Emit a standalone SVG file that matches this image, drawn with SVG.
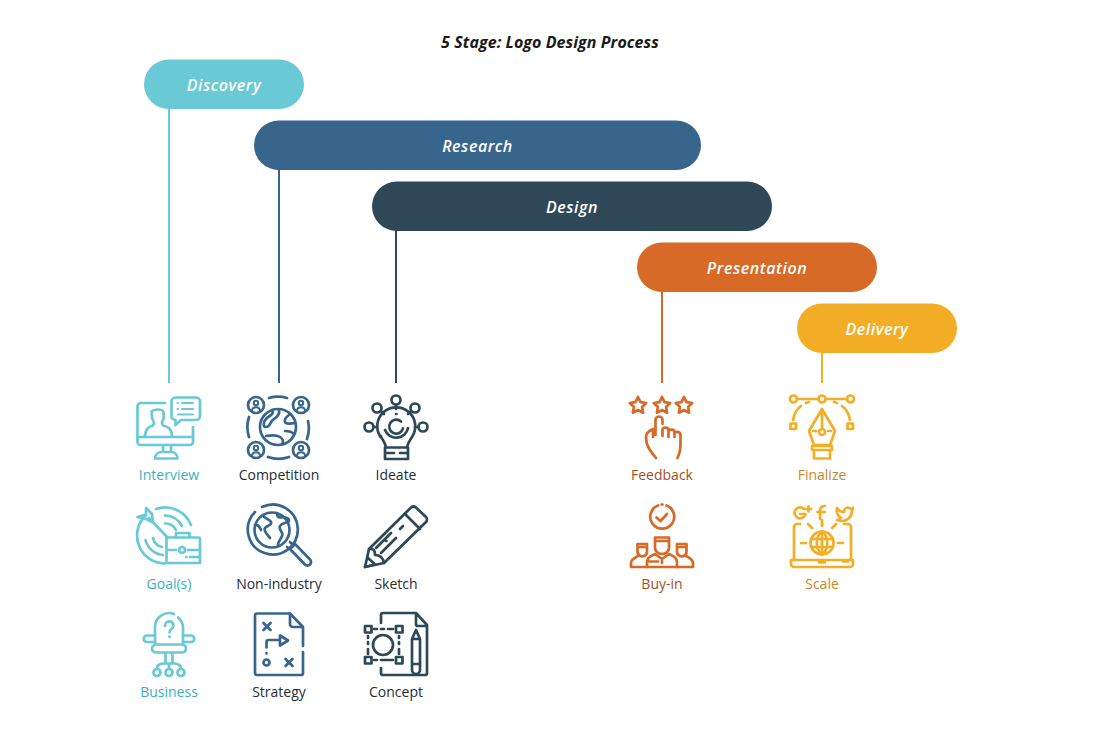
<svg xmlns="http://www.w3.org/2000/svg" width="1100" height="733" viewBox="0 0 1100 733">
<style>
text{font-family:"Open Sans","Liberation Sans",sans-serif}
.title{font-size:16px;font-weight:700;font-style:italic;fill:#1a1a1a;text-anchor:middle;letter-spacing:.07px}
.pill{font-size:16px;font-weight:600;font-style:italic;fill:#fff;text-anchor:middle;letter-spacing:.55px}
.lab{font-size:14px;text-anchor:middle}
.ic{fill:none;stroke-width:2.7;stroke-linecap:round;stroke-linejoin:round}
.thin{stroke-width:2}
.conn line{stroke-width:2}
.teal{stroke:#69c9d4}.blue{stroke:#38658c}.dark{stroke:#2f4858}.orange{stroke:#d66a26}.gold{stroke:#f4ae26}
.lt{fill:#3db0bc}.lb{fill:#1f2d38}.lo{fill:#a2501f}.lg{fill:#c28a2b}
</style>
<text class="title" x="550" y="48">5 Stage: Logo Design Process</text>

<g id="connectors" class="conn">
<line class="teal" x1="169" y1="108" x2="169" y2="383"/>
<line class="blue" x1="279" y1="169" x2="279" y2="383"/>
<line class="dark" x1="396" y1="230" x2="396" y2="383"/>
<line class="orange" x1="662" y1="291" x2="662" y2="383"/>
<line class="gold" x1="822" y1="352" x2="822" y2="383"/>
</g>

<g id="stage-discovery"><rect x="144" y="59.500" width="160" height="49.500" rx="24.750" fill="#69c9d4"/><text class="pill" x="224" y="91">Discovery</text></g>
<g id="stage-research"><rect x="254" y="120.500" width="447" height="49.500" rx="24.750" fill="#38658c"/><text class="pill" x="477.500" y="152">Research</text></g>
<g id="stage-design"><rect x="372" y="181.500" width="400" height="49.500" rx="24.750" fill="#2f4858"/><text class="pill" x="572" y="213">Design</text></g>
<g id="stage-presentation"><rect x="637" y="242.500" width="240" height="49.500" rx="24.750" fill="#d66a26"/><text class="pill" x="757" y="274">Presentation</text></g>
<g id="stage-delivery"><rect x="797" y="303.500" width="160" height="49.500" rx="24.750" fill="#f4ae26"/><text class="pill" x="877" y="335">Delivery</text></g>

<g id="item-interview">
<g class="ic teal">
<path d="M165 403H141a3.500 3.500 0 0 0-3.500 3.500V442a3 3 0 0 0 3 3H190a3 3 0 0 0 3-3V427"/>
<path d="M137.500 437H193M163 445.500V452M171 445.500V452M155 458.500h22.500c0-4-3-6.500-7-6.500h-8.500c-4 0-7 2.500-7 6.500z"/>
<path d="M145 436c0-7 5-10 7-10 2-1 2-2 2-4-2-2-3-8-2-11 3-2 9-2 11 0 1 3 1 8-1 11 0 2 0 3 2 4 3 0 8 3 8 10"/>
<path d="M176 397.500H196a4 4 0 0 1 4 4V416a4 4 0 0 1-4 4H181l-5.500 5V420a4 4 0 0 1-4-4V401.500a4 4 0 0 1 4-4z"/>
<path class="thin" d="M182 403h11M182 409h11M178 414.500h15M177.500 403h.5M177.500 409h.5"/>
</g>
<text class="lab lt" x="169" y="480">Interview</text>
</g>

<g id="item-goals">
<g class="ic teal">
<path d="M191 525A28 28 0 0 0 156 509M146 515A28 28 0 0 0 165 563.500"/>
<path d="M182 526A20 20 0 0 0 165 515.500M145.500 540A20 20 0 0 0 163 555"/>
<path d="M176 530A12 12 0 0 0 165 523.500M153 538A12 12 0 0 0 162 547"/>
<path d="M167 537L149 518M137.500 517L146 514.500V508L152 514L153 522.500L146.500 519Z"/>
<path d="M167 537.500H198a2 2 0 0 1 2 2V563H166.500V539.500a2 2 0 0 1 .5-2zM176 537v-4h13.500v4M166.500 550H176M188 550h12M182 547a3 3 0 1 0 .1 0M186 557h.5M190 557h10"/>
</g>
<text class="lab lt" x="169" y="589">Goal(s)</text>
</g>

<g id="item-business">
<g class="ic teal">
<path d="M155 645V627a14 14 0 0 1 19-13M178 617.500a14 14 0 0 1 5 9.500V645"/>
<path d="M155 635.500H147a3 3 0 0 0 0 6.500H155M183 635.500h8a3 3 0 0 1 0 6.500h-8"/>
<path d="M156 644.500H182a4 4 0 0 1 0 8H156a4 4 0 0 1 0-8z"/>
<path d="M165.500 653V663M172.500 653V663M157 668.500c0-3 3-5 6-5H175c3 0 6 2 6 5M169 664v4"/>
<circle cx="157" cy="672.500" r="3.500"/><circle cx="169" cy="672.500" r="3.500"/><circle cx="181" cy="672.500" r="3.500"/>
<path d="M165 626c0-6 8.500-6 8.500-.5 0 3.500-4 3.500-4 7M169.500 636.500v.5"/>
</g>
<text class="lab lt" x="169" y="697">Business</text>
</g>

<g id="item-competition">
<g class="ic blue">
<circle cx="256" cy="405" r="8"/><circle cx="301" cy="405" r="8"/><circle cx="256" cy="450" r="8"/><circle cx="301" cy="450" r="8"/>
<g class="thin"><path d="M252 411c0-5 8-5 8 0M297 411c0-5 8-5 8 0M252 456c0-5 8-5 8 0M297 456c0-5 8-5 8 0"/>
<circle cx="256" cy="403" r="2.200"/><circle cx="301" cy="403" r="2.200"/><circle cx="256" cy="448" r="2.200"/><circle cx="301" cy="448" r="2.200"/></g>
<circle cx="278" cy="427" r="18"/>
<path d="M272 410c3 4-3 6-6 9-3 3-3 8 0 8 5 0 3-5 8-8 3-2 6-5 5-9M295 423c-3 0-9 2-10-1-1-3 1-5 4-7M266 436c6-1 11-1 14 1 3 2 4 5 2 7M285 431c3 0 7 1 9 3"/>
<path d="M269 398a33 33 0 0 1 18 0M249 417a32 32 0 0 0 0 20M308 421a32 32 0 0 1-1 18M268 457a32 32 0 0 0 21 0"/>
</g>
<text class="lab lb" x="279" y="480">Competition</text>
</g>

<g id="item-nonindustry">
<g class="ic blue">
<path d="M262 507A25 25 0 1 1 255 512"/>
<circle cx="272" cy="530" r="17.500"/>
<path d="M263 515c1 4 7 4 8 7 1 4-4 3-6 6-2 3 3 7 5 10M277 513c0 5 3 5 6 4 3 1 6 0 6 4-3 3-7 1-9 5-2 4 4 6 2 10-1 3-4 5-4 9M255 525c4-1 5 3 6 5"/>
<path d="M290 549L305 564.500a3.500 3.500 0 0 0 5-5L295 544z"/>
<path d="M287 547l3 2M292 544l-2-2"/>
</g>
<text class="lab lb" x="279" y="589">Non-industry</text>
</g>

<g id="item-strategy">
<g class="ic blue">
<path d="M290 613.500H257a2 2 0 0 0-2 2V673a2 2 0 0 0 2 2H301a2 2 0 0 0 2-2V652M303 646V627L290 613.500V624a3 3 0 0 0 3 3H303"/>
<path d="M263.500 623l7 7M270.500 623l-7 7M285.500 659l7 7M292.500 659l-7 7"/>
<circle cx="266.500" cy="662.500" r="3"/>
<path d="M266.500 647.500V642a2 2 0 0 1 2-2H280M280 635.500l8 5-8 5zM266.500 653v.5"/>
</g>
<text class="lab lb" x="279" y="697">Strategy</text>
</g>

<g id="item-ideate">
<g class="ic dark">
<circle cx="396" cy="400" r="4.500"/><circle cx="377" cy="408" r="4.500"/><circle cx="415" cy="408" r="4.500"/><circle cx="369" cy="427" r="4.500"/><circle cx="423" cy="427" r="4.500"/>
<path d="M396 405V409M381 411L384 414M411 411L408 414M374 427H377M415 427H418"/>
<path d="M386 447c-1-4-3-7-5-10M407 447c1-4 3-7 5-10a19 19 0 1 0-31.500 0"/>
<path d="M385 447.500V459H408V447.500zM385 453H394M400 453H408"/>
<path d="M385 430a12 12 0 0 0 23-2M401 421.500a7 7 0 1 0 2 7"/>
<path d="M396 414h.5M380.500 436h.5"/>
</g>
<text class="lab lb" x="396" y="480">Ideate</text>
</g>

<g id="item-sketch">
<g class="ic dark">
<path d="M365 567L369 549L411 507.500a4 4 0 0 1 5 0L426 517a4 4 0 0 1 0 5L384 563Z"/>
<path d="M365 567L375 564.500L367.500 557.500M369 549c5-1 6 2 6 6 4 0 8 2 9 8"/>
<path d="M405 514L420 529M376 548L391 533M381 553L396 538M400 529L403 526M386 541h.5"/>
</g>
<text class="lab lb" x="396" y="589">Sketch</text>
</g>

<g id="item-concept">
<g class="ic dark">
<path d="M381 623V615a2 2 0 0 1 2-2H416L427 625V673a2 2 0 0 1-2 2H383a2 2 0 0 1-2-2V668M416 613V624a2 2 0 0 0 2 2H427"/>
<circle cx="383" cy="645" r="10"/>
<rect x="365" y="626" width="6.500" height="6.500"/><rect x="396" y="626" width="6.500" height="6.500"/><rect x="365" y="657" width="6.500" height="6.500"/><rect x="396" y="657" width="6.500" height="6.500"/>
<path d="M374 629h3M381 629h3M388 629h5M368 636v2M368 642v2M368 649v5M399 636v2M399 642v2M399 649v5M374 660h3M381 660h12"/>
<path d="M412 670V639L416 630 420 639V670a4 4 0 0 1-8 0zM412 639H420M412 664H420"/>
</g>
<text class="lab lb" x="396" y="697">Concept</text>
</g>

<g id="item-feedback">
<g class="ic orange">
<path d="M638 397l2.500 5.200 5.700.8-4.100 4 1 5.700-5.100-2.700-5.100 2.700 1-5.700-4.100-4 5.700-.8z"/>
<path d="M662 397l2.500 5.200 5.700.8-4.100 4 1 5.700-5.100-2.700-5.100 2.700 1-5.700-4.100-4 5.700-.8z"/>
<path d="M684 397l2.500 5.200 5.700.8-4.100 4 1 5.700-5.100-2.700-5.100 2.700 1-5.700-4.100-4 5.700-.8z"/>
<path d="M656 458c-5-6-10-12-10-20 0-4 2-7 7-9v8M655.500 435V420a3.500 3.500 0 0 1 7 0V424M662.500 429V436M662.500 429c0-2 6-2 6 1V437M668.500 431c0-2 6-2 6 1V437M674.500 433c2-2 6-1 6 2V444c0 5-1 10-3 14"/>
</g>
<text class="lab lo" x="662" y="480">Feedback</text>
</g>

<g id="item-buyin">
<g class="ic orange">
<path d="M658 505.500A12 12 0 1 0 666.500 505.500M661.500 504.500h1"/>
<path d="M656.500 517.500l4 3.500 6.500-7"/>
<path d="M655 541V537.500H669V541M655 541H669V548a7 6 0 0 1-14 0z"/>
<path d="M647 567V562c0-4 3-6 8-8l7 5 7-5c5 2 8 4 8 8V567M662 559V563M647 561.500H658"/>
<path d="M637.500 547V544H647V547M637.500 547H647V552a4.800 5 0 0 1-9.500 0z"/>
<path d="M677 547V544H686.500V547M677 547H686.500V552a4.800 5 0 0 1-9.500 0z"/>
<path d="M631 567V563c0-3 3-5 7-7M693 567V563c0-3-3-5-7-7M631 567H693"/>
</g>
<text class="lab lo" x="662" y="589">Buy-in</text>
</g>

<g id="item-finalize">
<g class="ic gold">
<path d="M797 399H818M826 399H847"/>
<circle cx="793.500" cy="399" r="3.500"/><circle cx="822" cy="399" r="3.500"/><circle cx="850.500" cy="399" r="3.500"/>
<rect x="790.500" y="423.500" width="5.500" height="5.500"/><rect x="847.500" y="423.500" width="5.500" height="5.500"/>
<path d="M793 420C794 414 797 409 801 406M806 403L809 402M850 420C849 414 846 409 842 406M837 403L834 402"/>
<path d="M822 409L809 431L814 445H830L835 431ZM822 409V428"/>
<circle cx="822" cy="432" r="3"/>
<path d="M813 431h3M828 431h3M812 446H832V450H812zM814 450V458.500H830V450"/>
</g>
<text class="lab lg" x="822" y="480">Finalize</text>
</g>

<g id="item-scale">
<g class="ic gold">
<path d="M800 524H797a3 3 0 0 0-3 3V560M844 524H848a3 3 0 0 1 3 3V560"/>
<path d="M791 560H853V564a3 3 0 0 1-3 3H794a3 3 0 0 1-3-3zM843 561.500h5M819 562.500h6"/>
<circle cx="822" cy="543" r="11.500"/>
<path d="M811 539H833M811 547H833M822 531.500V554.500"/>
<path d="M822 531.500C815 537 815 549 822 554.500M822 531.500C829 537 829 549 822 554.500"/>
<path d="M801 543H806M838 543H843M808 524L812 528M836 524L832 528M822 520V526"/>
<path d="M804 509a5.500 5.500 0 1 0 1.500 5H800M806 509h5M808.500 506.500v5"/>
<path d="M820 519V511c0-3 1-5 5-5M817.500 512H825"/>
<path d="M837 508c2 3 4 4 7 4 0-4 4-6 7-3l2-1-1 3c0 6-5 10-10 10-2 0-4-1-5-1 2 0 3-1 4-2-3-2-5-6-4-10z"/>
</g>
<text class="lab lg" x="822" y="589">Scale</text>
</g>
</svg>
